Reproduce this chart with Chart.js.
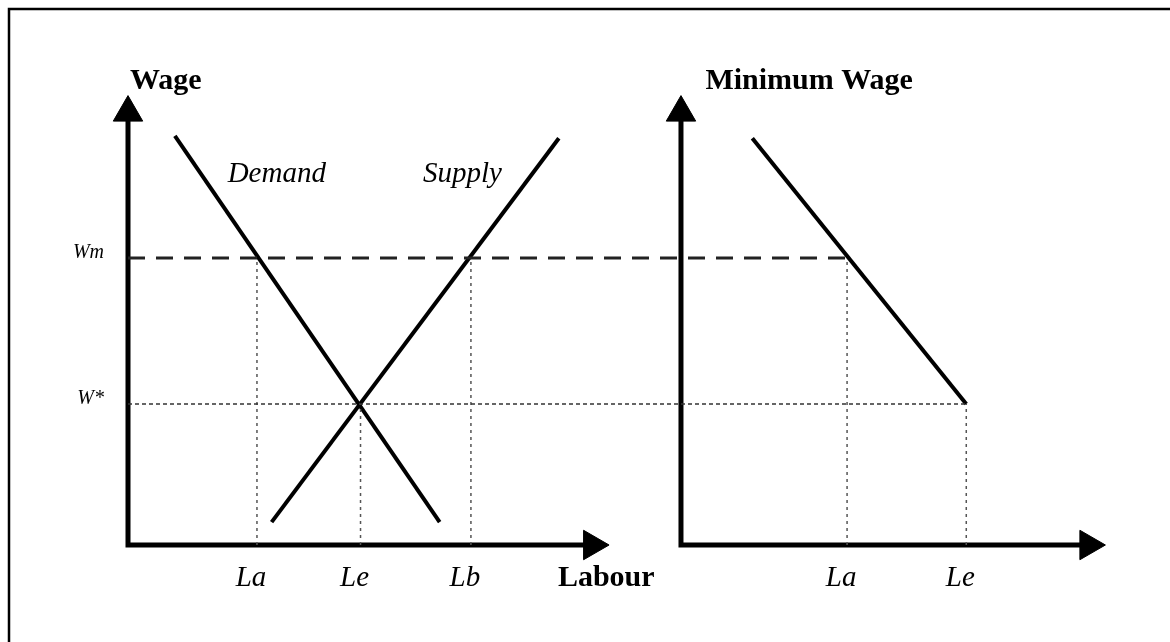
<!DOCTYPE html>
<html>
<head>
<meta charset="utf-8">
<script src="https://cdn.jsdelivr.net/npm/chart.js@4/dist/chart.umd.min.js"></script>
<style>
  html, body { margin: 0; padding: 0; background: #fff; }
  #wrap { position: relative; width: 1170px; height: 642px; }
</style>
</head>
<body>
<div id="wrap"><canvas id="graph_labour" width="1170" height="642"></canvas></div>
<script>
// ---- data (x = labour units, y = wage units) ----
var wageTicks = [31.4, 63.9];
var wageLabels = ['W*', 'Wm'];
var labourTicks = [13.2, 23.8, 35.1, 73.6, 85.8];
var labourLabels = ['La', 'Le', 'Lb', 'La', 'Le'];

var demandX = [4.8, 31.9];
var demandY = [91.1, 5.1];
var supplyX = [14.7, 44.1];
var supplyY = [5.1, 90.6];
var minWageX = [63.9, 85.8];
var minWageY = [90.6, 31.4];

// axes: [x of vertical axis, top of arrow, end of horizontal arrow]
var leftAxis = [0, 96.3, 47.5];
var rightAxis = [56.6, 96.3, 98.3];

var textItems = [
    { text: 'Wage', x: 0.2, y: 101.6, font: 'bold 30px "Liberation Serif"' },
    { text: 'Minimum Wage', x: 59.1, y: 101.6, font: 'bold 30px "Liberation Serif"' },
    { text: 'Labour', x: 44.0, y: -9.1, font: 'bold 30px "Liberation Serif"' },
    { text: 'Demand', x: 10.2, y: 80.8, font: 'italic 29px "Liberation Serif"' },
    { text: 'Supply', x: 30.2, y: 80.8, font: 'italic 29px "Liberation Serif"' }
];

function pts(xs, ys) {
    var out = [];
    for (var i = 0; i < xs.length; i++) {
        out.push({ x: xs[i], y: ys[i] });
    }
    return out;
}

function lineSet(data, width, color, dash) {
    return {
        data: data,
        showLine: true,
        borderColor: color,
        borderWidth: width,
        borderDash: dash || [],
        pointRadius: 0,
        clip: false
    };
}

function axisSet(a) {
    return {
        data: [{ x: a[0], y: a[1] }, { x: a[0], y: 0 }, { x: a[2], y: 0 }],
        showLine: true,
        borderColor: '#000',
        borderWidth: 5,
        borderJoinStyle: 'miter',
        pointStyle: 'triangle',
        pointRadius: [17, 0, 17],
        pointRotation: [0, 0, 90],
        pointBackgroundColor: '#000',
        pointBorderColor: '#000',
        pointBorderWidth: 1,
        clip: false
    };
}

var guideColor = '#555';
var datasets = [
    // guides
    lineSet(pts([0, labourTicks[3]], [wageTicks[1], wageTicks[1]]), 3, '#222', [17, 11]),
    lineSet(pts([0, labourTicks[4]], [wageTicks[0], wageTicks[0]]), 1.5, '#333', [4, 3]),
    lineSet(pts([labourTicks[0], labourTicks[0]], [0, wageTicks[1]]), 1.5, guideColor, [3, 4]),
    lineSet(pts([labourTicks[1], labourTicks[1]], [0, wageTicks[0]]), 1.5, guideColor, [3, 4]),
    lineSet(pts([labourTicks[2], labourTicks[2]], [0, wageTicks[1]]), 1.5, guideColor, [3, 4]),
    lineSet(pts([labourTicks[3], labourTicks[3]], [0, wageTicks[1]]), 1.5, guideColor, [3, 4]),
    lineSet(pts([labourTicks[4], labourTicks[4]], [0, wageTicks[0]]), 1.5, guideColor, [3, 4]),
    // curves
    lineSet(pts(demandX, demandY), 4, '#000'),
    lineSet(pts(supplyX, supplyY), 4, '#000'),
    lineSet(pts(minWageX, minWageY), 4, '#000'),
    // axes
    axisSet(leftAxis),
    axisSet(rightAxis)
];

var framePlugin = {
    id: 'frame',
    beforeDraw: function (chart) {
        var c = chart.ctx;
        c.save();
        c.fillStyle = '#fff';
        c.fillRect(0, 0, chart.width, chart.height);
        c.strokeStyle = '#000';
        c.lineWidth = 2.5;
        c.beginPath();
        c.moveTo(9, chart.height);
        c.lineTo(9, 9);
        c.lineTo(chart.width, 9);
        c.stroke();
        c.restore();
    }
};

var textPlugin = {
    id: 'texts',
    afterDraw: function (chart) {
        var c = chart.ctx;
        var sx = chart.scales.x;
        var sy = chart.scales.y;
        c.save();
        c.fillStyle = '#000';
        c.textAlign = 'left';
        c.textBaseline = 'alphabetic';
        textItems.forEach(function (t) {
            c.font = t.font;
            c.fillText(t.text, sx.getPixelForValue(t.x), sy.getPixelForValue(t.y));
        });
        c.restore();
    }
};

var ctx = document.getElementById('graph_labour').getContext('2d');
new Chart(ctx, {
    type: 'scatter',
    data: { datasets: datasets },
    options: {
        responsive: false,
        animation: false,
        events: [],
        layout: { padding: { top: 96, right: 65, bottom: 0, left: 0 } },
        plugins: {
            legend: { display: false },
            tooltip: { enabled: false }
        },
        scales: {
            x: {
                type: 'linear',
                min: 0,
                max: 100,
                grid: { display: false, drawTicks: false },
                border: { display: false },
                afterFit: function (scale) { scale.height = 97; },
                afterBuildTicks: function (scale) {
                    scale.ticks = labourTicks.map(function (v) { return { value: v }; });
                },
                ticks: {
                    autoSkip: false,
                    maxRotation: 0,
                    padding: 16,
                    labelOffset: -6,
                    color: '#000',
                    font: { family: '"Liberation Serif"', size: 29, style: 'italic' },
                    callback: function (value, index) { return labourLabels[index]; }
                }
            },
            y: {
                type: 'linear',
                min: 0,
                max: 100,
                grid: { display: false, drawTicks: false },
                border: { display: false },
                afterFit: function (scale) { scale.width = 128; },
                afterBuildTicks: function (scale) {
                    scale.ticks = wageTicks.map(function (v) { return { value: v }; });
                },
                ticks: {
                    padding: 24,
                    labelOffset: -5,
                    color: '#000',
                    font: { family: '"Liberation Serif"', size: 20, style: 'italic' },
                    callback: function (value, index) { return wageLabels[index]; }
                }
            }
        }
    },
    plugins: [framePlugin, textPlugin]
});
</script>
</body>
</html>
